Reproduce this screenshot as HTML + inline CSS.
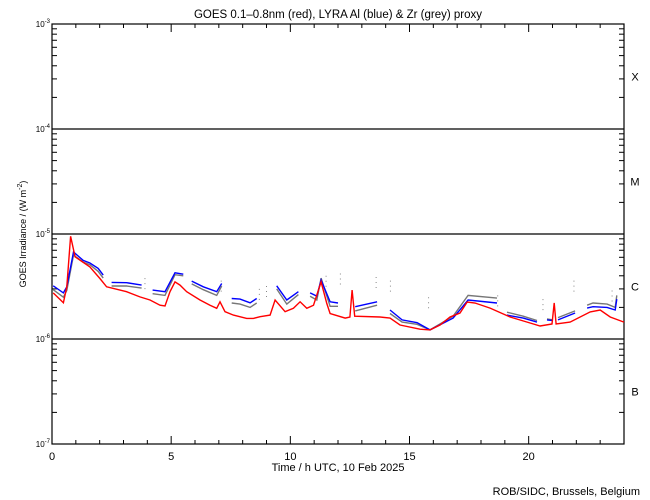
<!DOCTYPE html>
<html><head><meta charset="utf-8"><style>
html,body{margin:0;padding:0;background:#fff;}
svg{display:block;font-family:"Liberation Sans",sans-serif;}
</style></head><body>
<svg id="chart" width="650" height="500" viewBox="0 0 650 500" xmlns="http://www.w3.org/2000/svg">
<text x="338" y="18" font-size="11.5" text-anchor="middle">GOES 0.1–0.8nm (red), LYRA Al (blue) &amp; Zr (grey) proxy</text>
<text x="338" y="471" font-size="11" text-anchor="middle">Time / h UTC, 10 Feb 2025</text>
<text transform="translate(26,234) rotate(-90)" font-size="9" text-anchor="middle">GOES Irradiance / (W m<tspan dy="-4" font-size="7">-2</tspan><tspan dy="4">)</tspan></text>
<text x="640" y="495" font-size="11" text-anchor="end">ROB/SIDC, Brussels, Belgium</text>
<g id="axes"></g>
<g id="series"></g>
</svg>
<script>
const xTicks=[0,5,10,15,20];
const yDecades=[-3,-4,-5,-6,-7];
const classes=["X","M","C","B"];
const classMid=[-3.5,-4.5,-5.5,-6.5];
// values in units of 1e-6 W m^-2 ; null = gap
const redHours=[0.05,0.48,0.62,0.78,0.97,1.59,2.01,2.29,3.13,3.69,4.11,4.53,4.74,4.95,5.16,5.37,5.65,6.21,6.63,6.91,7.05,7.26,7.61,8.17,8.45,8.73,9.15,9.36,9.78,10.13,10.41,10.69,10.97,11.29,11.53,11.67,12.30,12.5,12.59,12.7,13.76,14.18,14.6,15.44,15.86,16.28,16.7,17.12,17.42,17.75,18.38,19.22,20.06,20.48,20.98,21.07,21.15,21.74,22.58,23.0,23.42,24.0];
const redValues=[2.75,2.21,3.14,9.5,6.06,4.86,3.77,3.14,2.82,2.52,2.35,2.10,2.06,2.82,3.50,3.26,2.82,2.35,2.10,1.96,2.26,1.82,1.69,1.57,1.57,1.63,1.69,2.35,1.82,1.96,2.26,1.96,2.10,3.50,2.18,1.75,1.58,1.62,2.92,1.65,1.62,1.58,1.36,1.24,1.22,1.36,1.62,1.77,2.25,2.20,1.97,1.62,1.42,1.33,1.39,2.20,1.39,1.45,1.81,1.89,1.62,1.45];
const blueHours=[0.05,0.48,0.62,0.90,1.31,1.59,1.94,2.15,null,2.50,3.13,3.76,null,4.22,4.74,5.16,5.51,null,5.86,6.35,6.91,7.12,null,7.54,7.89,8.31,8.59,null,9.43,9.85,10.34,null,10.83,11.11,11.29,11.67,12.0,null,12.72,13.64,null,14.18,14.69,15.32,15.86,16.83,17.46,18.67,null,19.09,19.77,20.35,null,20.77,21.02,null,21.23,21.95,null,22.45,22.70,23.29,23.63,23.7];
const blueValues=[3.21,2.75,3.14,6.74,5.6,5.3,4.7,4.06,null,3.46,3.44,3.26,null,2.92,2.82,4.27,4.14,null,3.56,3.14,2.82,3.38,null,2.43,2.40,2.21,2.43,null,3.21,2.35,2.82,null,2.75,2.56,3.64,2.26,2.2,null,2.03,2.26,null,1.89,1.52,1.43,1.22,1.58,2.35,2.2,null,1.69,1.58,1.45,null,1.52,1.50,null,1.52,1.77,null,1.97,2.03,2.0,1.89,2.4];
const greyValues=[2.95,2.5,2.9,6.3,5.4,5.1,4.4,3.8,null,3.2,3.2,3.05,null,2.7,2.6,4.1,4.0,null,3.35,2.95,2.6,3.2,null,2.2,2.15,2.0,2.2,null,3.0,2.15,2.65,null,2.55,2.35,3.8,2.05,2.05,null,1.85,2.1,null,1.75,1.45,1.38,1.22,1.65,2.6,2.45,null,1.8,1.65,1.5,null,1.55,1.52,null,1.6,1.85,null,2.1,2.2,2.15,2.0,2.6];
const spikeHours=[3.9,7.1,8.7,9.0,11.5,12.1,13.6,14.2,15.8,18.7,20.6,21.9,23.5];
const spikeValues=[3.8,3.6,3.0,3.2,4.0,4.2,3.9,3.6,2.5,2.6,2.4,3.6,2.9];

const L=52,R=624,T=24,B=444;
const X=h=>L+(h/24)*(R-L);
const Y=v=>{const lg=Math.log10(v);return T+(-3-lg)/4*(B-T);};
const YL=lg=>T+(-3-lg)/4*(B-T);
const NS="http://www.w3.org/2000/svg";
const ax=document.getElementById('axes'), sg=document.getElementById('series');
function mk(tag,at,parent){const e=document.createElementNS(NS,tag);for(const k in at)e.setAttribute(k,at[k]);parent.appendChild(e);return e;}

const frame=mk('rect',{x:L,y:T,width:R-L,height:B-T,fill:'none',stroke:'#000','stroke-width':1.2},ax);


for(let h=0;h<=24;h++){
  const major=xTicks.includes(h), len=major?8:4;
  const t1=mk('line',{x1:X(h),x2:X(h),y1:B,y2:B-len,stroke:'#000'},ax);
  
  
  const t2=mk('line',{x1:X(h),x2:X(h),y1:T,y2:T+len,stroke:'#000'},ax);
  
  
}
xTicks.forEach(h=>{
  const t=mk('text',{x:X(h),y:B+16,'font-size':11,'text-anchor':'middle'},ax);
  t.textContent=h;
  
  
});
yDecades.forEach(d=>{
  const y=YL(d);
  if(d!==-3&&d!==-7){
    const gl=mk('line',{x1:L,x2:R,y1:y,y2:y,stroke:'#000','stroke-width':1.2},ax);
    
    
  }
  const t=mk('text',{x:L-2,y:y+3,'font-size':8,'text-anchor':'end'},ax);
  t.innerHTML='10<tspan dy="-4" font-size="6">'+d+'</tspan>';
  
  
  if(d>-7){for(let m=2;m<=9;m++){
    const yy=YL(d-1+Math.log10(m));
    const a=mk('line',{x1:L,x2:L+5,y1:yy,y2:yy,stroke:'#000'},ax);
    
    
    const b=mk('line',{x1:R,x2:R-5,y1:yy,y2:yy,stroke:'#000'},ax);
    
    
  }}
});
classes.forEach((c,i)=>{
  const t=mk('text',{x:635,y:YL(classMid[i])+4,'font-size':11,'text-anchor':'middle'},ax);
  t.textContent=c;
  
  
});
function drawLine(hours,vals,color,name){
  let d='',pen=false;
  for(let i=0;i<hours.length;i++){
    if(hours[i]===null||vals[i]===null){pen=false;continue;}
    d+=(pen?'L':'M')+X(hours[i]).toFixed(1)+' '+Y(vals[i]*1e-6).toFixed(1);pen=true;
  }
  const p=mk('path',{d:d,fill:'none',stroke:color,'stroke-width':1.4},sg);
  
  
}
drawLine(blueHours,greyValues,'#777','zr-grey-series');
drawLine(blueHours,blueValues,'#0000ff','al-blue-series');
drawLine(redHours,redValues,'#ff0000','goes-red-series');
spikeHours.forEach((h,i)=>{
  const s=mk('line',{x1:X(h),x2:X(h),y1:Y(spikeValues[i]*1e-6),y2:Y(spikeValues[i]*1e-6)+14,stroke:'#888','stroke-width':1,'stroke-dasharray':'1 4'},sg);
  
  
});
</script>
</body></html>
